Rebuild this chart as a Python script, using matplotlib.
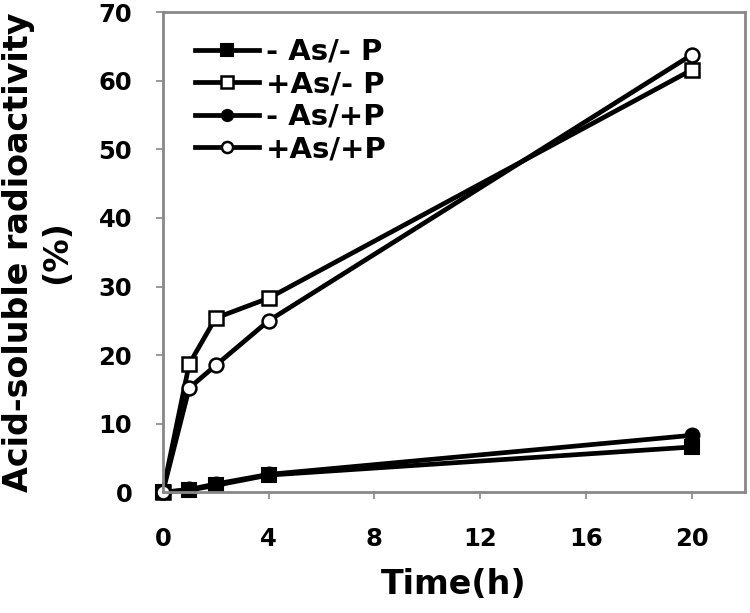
import matplotlib
matplotlib.use("Agg")
import matplotlib.pyplot as plt

# time points (h)
time_h = [0, 1, 2, 4, 20]

# acid-soluble radioactivity (%)
minus_as_minus_p = [0, 0.3, 1.0, 2.5, 6.6]
plus_as_minus_p = [0, 18.7, 25.4, 28.3, 61.6]
minus_as_plus_p = [0, 0.4, 1.2, 2.6, 8.3]
plus_as_plus_p = [0, 15.2, 18.5, 25.0, 63.8]

series_labels = ["- As/- P", "+As/- P", "- As/+P", "+As/+P"]
x_ticks = [0, 4, 8, 12, 16, 20]
y_ticks = [0, 10, 20, 30, 40, 50, 60, 70]

plt.rcParams['font.family'] = 'DejaVu Sans'
plt.rcParams['font.weight'] = 'bold'

fig = plt.figure(figsize=(7.5, 6.13), dpi=100)
ax = fig.add_axes([0.217, 0.197, 0.776, 0.783])

lw = 3.4
ax.plot(time_h, minus_as_minus_p, color='black', lw=lw, marker='s', ms=10,
        mfc='black', mec='black', mew=1.5, label=series_labels[0], clip_on=False)
ax.plot(time_h, plus_as_minus_p, color='black', lw=lw, marker='s', ms=10,
        mfc='white', mec='black', mew=1.8, label=series_labels[1], clip_on=False)
ax.plot(time_h, minus_as_plus_p, color='black', lw=lw, marker='o', ms=10,
        mfc='black', mec='black', mew=1.5, label=series_labels[2], clip_on=False)
ax.plot(time_h, plus_as_plus_p, color='black', lw=lw, marker='o', ms=10,
        mfc='white', mec='black', mew=1.8, label=series_labels[3], clip_on=False)

ax.set_xlim(0, 22)
ax.set_ylim(0, 70)
ax.set_xticks(x_ticks)
ax.set_yticks(y_ticks)

for s in ax.spines.values():
    s.set_color('#888888')
    s.set_linewidth(2)

ax.tick_params(axis='both', colors='#888888', labelcolor='black',
               labelsize=17.5, length=5, width=1.2, direction='out')
ax.tick_params(axis='x', pad=20)
ax.tick_params(axis='y', pad=17)
for lab in ax.get_xticklabels() + ax.get_yticklabels():
    lab.set_fontweight('bold')

ax.set_xlabel('Time(h)', fontsize=24, fontweight='bold', labelpad=12)
ax.set_ylabel('Acid-soluble radioactivity\n(%)', fontsize=24,
              fontweight='bold', labelpad=18, linespacing=1.2)

leg = ax.legend(loc='upper left', frameon=False, fontsize=21, handlelength=2.2,
                markerscale=0.8, borderaxespad=0.4, labelspacing=0.15,
                handletextpad=0.25, bbox_to_anchor=(0.015, 0.995))
for t in leg.get_texts():
    t.set_fontweight('bold')

fig.savefig('out.png', dpi=100)
